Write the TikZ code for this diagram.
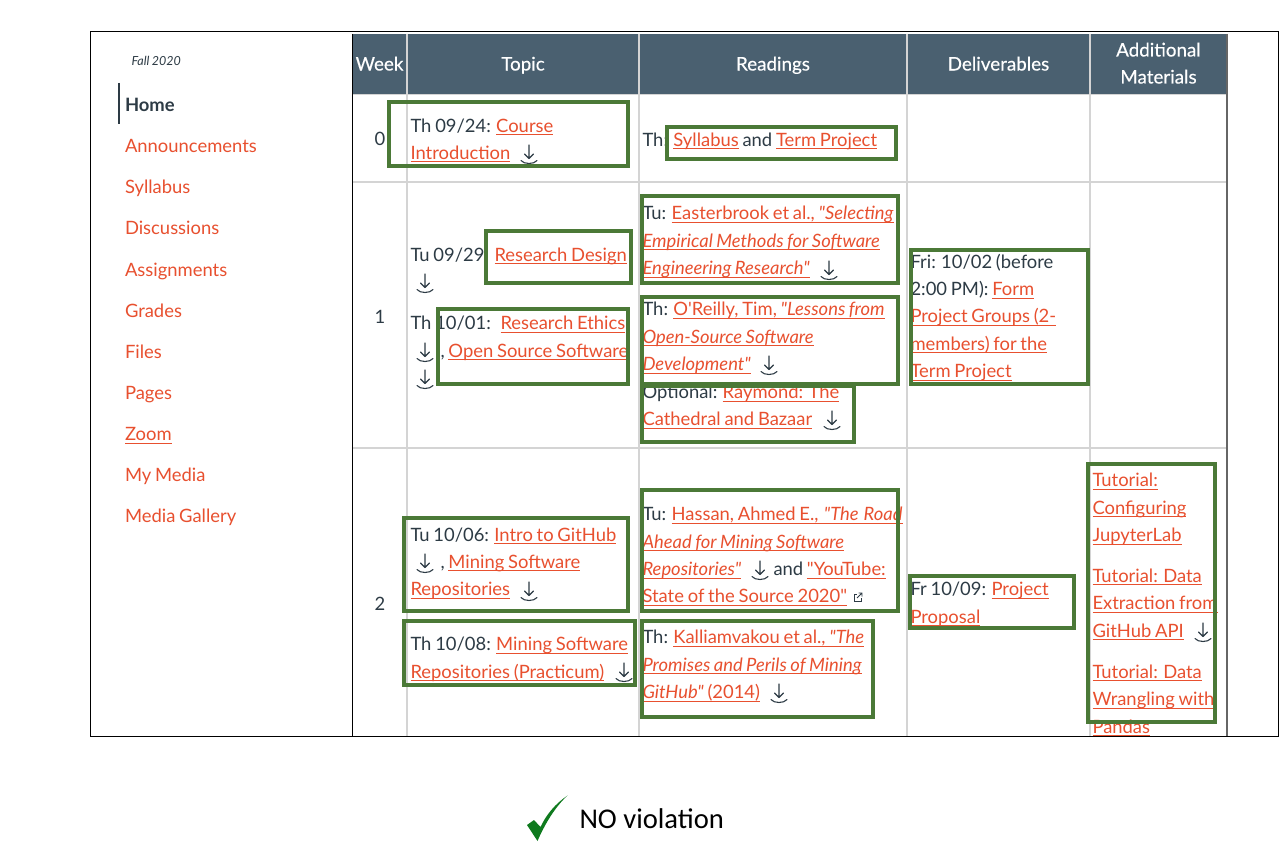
\documentclass[tikz,border=0pt]{standalone}
\usepackage{fontspec}
\setmainfont{Lato}[Ligatures=TeXOff,WordSpace=0.8]
\newfontfamily\hdfont{Lato}[FakeBold=0.35,WordSpace=0.8]
\newfontfamily\calib{Carlito}
\definecolor{hdr}{HTML}{4A6070}
\definecolor{ink}{HTML}{2D3B45}
\definecolor{lnk}{HTML}{E8502F}
\definecolor{grn}{HTML}{4B7937}
\definecolor{grid}{HTML}{D4D4D4}
\definecolor{edge}{HTML}{666666}
\definecolor{chk}{HTML}{0F7A1E}
\newcommand\lk[1]{\textcolor{lnk}{\setbox0\hbox{#1}\rlap{\rule[-2.8pt]{\wd0}{1pt}}\box0}}
\newcommand\tx[4]{\node[txt] (#1) at (#2,#3) {#4};}
\newcommand\dl[2]{\begin{scope}[shift={(#1,#2)}]
  \draw[iconline] (0,-10) -- (0,3.5) (-4.5,-1) -- (0,3.5) -- (4.5,-1);
  \draw[iconline] (-8,5.5) .. controls (-5,9.5) and (5,9.5) .. (8,5.5);
\end{scope}}
\tikzset{
  txt/.style={anchor=base west,inner sep=0pt,outer sep=0pt,text=ink,xshift=-0.5pt,yshift=-0.8pt,font=\fontsize{18.4}{22}\selectfont},
  side/.style={txt,text=lnk},
  head/.style={anchor=base,inner sep=0pt,text=white,yshift=-0.5pt,font=\hdfont\fontsize{18.8}{22}\selectfont},
  wk/.style={anchor=base,inner sep=0pt,text=ink,yshift=-0.8pt,font=\fontsize{18.4}{22}\selectfont},
  gbox/.style={draw=grn,line width=4pt,fill=none},
  gridline/.style={draw=grid,line width=1.1pt},
  iconline/.style={draw=ink,line width=1.1pt,line cap=round,line join=round},
}
\begin{document}
\begin{tikzpicture}[x=1pt,y=-1pt]
\useasboundingbox (0,0) rectangle (1286,843);
\fill[white] (0,0) rectangle (1286,843);
% table background
\fill[hdr] (352,34) rectangle (1227,94);
\draw[gridline] (407,34) -- (407,736) (639,34) -- (639,736) (907,34) -- (907,736) (1090,34) -- (1090,736);
\draw[gridline] (352,94.5) -- (1227,94.5) (352,182) -- (1227,182) (352,448) -- (1227,448);
\draw[draw=edge,line width=1.3pt] (1227,34) -- (1227,736);
\draw[black,line width=1pt] (352,34) -- (352,736);
\draw[black,line width=1pt] (90.5,31.5) rectangle (1278.5,736.5);
% sidebar
\node[txt,font=\itshape\fontsize{12.5}{15}\selectfont] (fall) at (132,65) {Fall 2020};
\draw[ink,line width=2pt] (119,83) -- (119,124);
\node[txt,font=\bfseries\fontsize{18.4}{22}\selectfont] (home) at (125.5,110.5) {Home};
\node[side] (s1) at (125.5,152) {Announcements};
\node[side] (s2) at (125.5,193) {Syllabus};
\node[side] (s3) at (125.5,234) {Discussions};
\node[side] (s4) at (125.5,275.5) {Assignments};
\node[side] (s5) at (125.5,316.5) {Grades};
\node[side] (s6) at (125.5,357.5) {Files};
\node[side] (s7) at (125.5,399) {Pages};
\node[side] (s8) at (125.5,440) {\lk{Zoom}};
\node[side] (s9) at (125.5,481) {My Media};
\node[side] (s10) at (125.5,522) {Media Gallery};
% headers
\node[head] (h1) at (379.5,70) {Week};
\node[head] (h2) at (523,70) {Topic};
\node[head] (h3) at (773,70) {Readings};
\node[head] (h4) at (998.5,70) {Deliverables};
\node[head] (h5) at (1158.5,56) {Additional};
\node[head] (h6) at (1158.5,83) {Materials};
% week numbers
\node[wk] (w0) at (380,144.5) {0};
\node[wk] (w1) at (380,322.5) {1};
\node[wk] (w2) at (380,609.5) {2};
% topics
\tx{a1}{411}{131.5}{Th 09/24: \lk{Course}}
\tx{a2}{411}{158.5}{\lk{Introduction}}
\dl{529}{155}
\tx{b1}{411}{260.5}{Tu 09/29:}
\tx{b2}{495}{260.5}{\lk{Research Design}}
\dl{425}{284}
\tx{c1}{411}{329}{Th 10/01:}
\tx{c2}{501}{329}{\lk{Research Ethics}}
\dl{425}{353}
\tx{c3}{441}{356.5}{, \lk{Open Source Software}}
\dl{425}{380}
\tx{d1}{411}{540.5}{Tu 10/06: \lk{Intro to GitHub}}
\dl{425}{564}
\tx{d2}{441}{567.5}{, \lk{Mining Software}}
\tx{d3}{411}{595}{\lk{Repositories}}
\dl{529}{592}
\tx{e1}{411}{650}{Th 10/08: \lk{Mining Software}}
\tx{e2}{411}{677.5}{\lk{Repositories (Practicum)}}
\dl{624}{673}
% readings
\tx{f1}{643}{145.5}{Th: \lk{Syllabus} and \lk{Term Project}}
\tx{g1}{643}{219}{Tu: \lk{Easterbrook et al., \textit{"Selecting}}}
\tx{g2}{643}{246.5}{\lk{\textit{Empirical Methods for Software}}}
\tx{g3}{643}{274}{\lk{\textit{Engineering Research"}}}
\dl{829}{271}
\tx{i1}{643}{315}{Th: \lk{O'Reilly, Tim, \textit{"Lessons from}}}
\tx{i2}{643}{342.5}{\lk{\textit{Open-Source Software}}}
\tx{i3}{643}{370}{\lk{\textit{Development"}}}
\dl{769}{366}
\tx{j1}{643}{398}{Optional: \lk{Raymond: The}}
\tx{j2}{643}{425}{\lk{Cathedral and Bazaar}}
\dl{832}{421}
\tx{k1}{643}{520}{Tu: \lk{Hassan, Ahmed E.,\hspace{1.5pt} \textit{"The\hspace{1.5pt} Road}}}
\tx{k2}{643}{547.5}{\lk{\textit{Ahead for Mining Software}}}
\tx{k3}{643}{575}{\lk{\textit{Repositories"}}}
\dl{760}{571}
\tx{k4}{774}{575}{and \lk{"YouTube:}}
\tx{k5}{643}{602}{\lk{State of the Source 2020"}}
\begin{scope}[shift={(858,597)}]
  \draw[ink,line width=0.9pt] (-1,-3) -- (-4,-3) -- (-4,4) -- (3,4) -- (3,1);
  \draw[ink,line width=0.9pt] (-1,1) -- (4,-4) (0.5,-4) -- (4,-4) -- (4,-0.5);
\end{scope}
\tx{l1}{643}{643}{Th: \lk{Kalliamvakou et al., \textit{"The}}}
\tx{l2}{643}{670.5}{\lk{\textit{Promises and Perils of Mining}}}
\tx{l3}{643}{698}{\lk{\textit{GitHub"} (2014)}}
\dl{779}{694}
% deliverables
\tx{m1}{911}{267.5}{Fri: 10/02 (before}
\tx{m2}{911}{295}{2:00 PM): \lk{Form}}
\tx{m3}{911}{322}{\lk{Project Groups (2-}}
\tx{m4}{911}{349.5}{\lk{members) for the}}
\tx{m5}{911}{377}{\lk{Term Project}}
\tx{n1}{911}{595}{Fr 10/09: \lk{Project}}
\tx{n2}{911}{622.5}{\lk{Proposal}}
% additional
\tx{p1}{1093}{486}{\lk{Tutorial:}}
\tx{p2}{1093}{513.5}{\lk{Configuring}}
\tx{p3}{1093}{541}{\lk{JupyterLab}}
\tx{p4}{1093}{581.5}{\lk{Tutorial: Data}}
\tx{p5}{1093}{609}{\lk{Extraction from}}
\tx{p6}{1093}{636.5}{\lk{GitHub API}}
\dl{1203}{633}
\tx{p7}{1093}{677.5}{\lk{Tutorial: Data}}
\tx{p8}{1093}{705}{\lk{Wrangling with}}
\tx{p9}{1093}{732.5}{\lk{Pandas}}
% green boxes
\draw[gbox] (389,102) rectangle (628,166);
\draw[gbox] (486,231) rectangle (631,283);
\draw[gbox] (438,309) rectangle (628,384);
\draw[gbox] (667,127) rectangle (896,159);
\draw[gbox] (642,196) rectangle (898,283);
\draw[gbox] (642,297) rectangle (898,384);
\draw[gbox] (642,386) rectangle (854,442);
\draw[gbox] (910.5,250) rectangle (1088,384);
\draw[gbox] (404,518) rectangle (628,611);
\draw[gbox] (404,621) rectangle (635,685);
\draw[gbox] (642,490) rectangle (898,611);
\draw[gbox] (642,621) rectangle (873,717);
\draw[gbox] (910,576) rectangle (1074,628);
\draw[gbox] (1088,464) rectangle (1215,722);
% check mark and caption
\fill[chk] (567.5,795.5) .. controls (555,804) and (546,815) .. (540.5,827)
  -- (534,820) -- (527,825) -- (537.5,841) .. controls (544,826) and (554,808) .. cycle;
\node[txt,text=black,font=\calib\fontsize{28.6}{34}\selectfont] (cap) at (580,828) {NO violation};
\end{tikzpicture}
\end{document}
